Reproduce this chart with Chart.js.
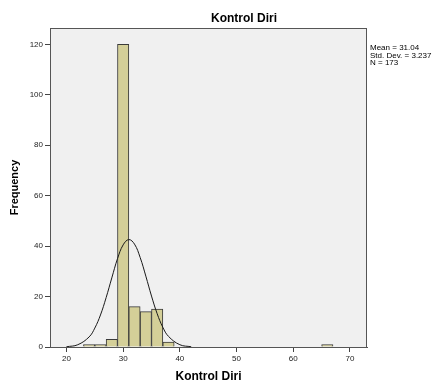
<!DOCTYPE html>
<html>
<head>
<meta charset="utf-8">
<script src="https://cdn.jsdelivr.net/npm/chart.js@4.4.1/dist/chart.umd.min.js"></script>
<style>
  html, body { margin: 0; padding: 0; background: #fff; }
  #wrap { width: 438px; height: 383px; position: relative; }
</style>
</head>
<body>
<div id="wrap"><canvas id="histo" width="438" height="383"></canvas></div>
<script>
// Datos del histograma (centro del intervalo y frecuencia)
var binCenters = [24, 26, 28, 30, 32, 34, 36, 38, 66];
var frequencies = [1, 1, 3, 120, 16, 14, 15, 2, 1];

// Curva normal
var curveX = [20, 22, 24, 25, 26, 27, 28, 29, 30, 31, 32, 33, 34, 35, 36, 37, 38, 40, 42];
var curveY = [0.1, 0.9, 4.0, 7.5, 12.7, 19.6, 27.4, 35.0, 40.5, 42.6, 40.8, 35.5, 28.1, 20.2, 13.2, 7.8, 4.2, 0.9, 0.1];

var xTicks = [20, 30, 40, 50, 60, 70];
var yTicks = [0, 20, 40, 60, 80, 100, 120];

var chartTitle = 'Kontrol Diri';
var xTitle = 'Kontrol Diri';
var yTitle = 'Frequency';
var statsLines = ['Mean = 31.04', 'Std. Dev. = 3.237', 'N = 173'];

var FONT = 'Arial, "Liberation Sans", sans-serif';

var fondoYTextos = {
    id: 'fondoYTextos',
    beforeDatasetsDraw: function(chart) {
        var a = chart.chartArea, ctx = chart.ctx;
        ctx.save();
        ctx.fillStyle = '#f0f0f0';
        ctx.fillRect(a.left, a.top, a.right - a.left, a.bottom - a.top);
        ctx.restore();
    },
    afterDraw: function(chart) {
        var a = chart.chartArea, ctx = chart.ctx;
        ctx.save();
        ctx.strokeStyle = '#555555';
        ctx.lineWidth = 1;
        ctx.strokeRect(a.left + 0.5, a.top + 0.5, a.right - a.left - 1, a.bottom - a.top);
        // titulo
        ctx.fillStyle = '#000';
        ctx.font = 'bold 12px ' + FONT;
        ctx.textAlign = 'center';
        ctx.textBaseline = 'middle';
        ctx.fillText(chartTitle, 244, 19);
        // estadisticos
        ctx.font = '8px ' + FONT;
        ctx.textAlign = 'left';
        for (var i = 0; i < statsLines.length; i++) {
            ctx.fillText(statsLines[i], 370, 48 + i * 7.5);
        }
        ctx.restore();
    }
};

var ctx = document.getElementById('histo').getContext('2d');
var myChart = new Chart(ctx, {
    type: 'bar',
    data: {
        datasets: [{
            type: 'line',
            data: curveX.map(function(x, i) { return {x: x, y: curveY[i]}; }),
            borderColor: '#1a1a1a',
            borderWidth: 1,
            pointRadius: 0,
            fill: false,
            tension: 0.4,
            order: 0
        }, {
            type: 'bar',
            data: binCenters.map(function(x, i) { return {x: x, y: frequencies[i]}; }),
            backgroundColor: '#d4cf98',
            borderColor: '#3a3a3a',
            borderWidth: 1,
            barPercentage: 1,
            categoryPercentage: 1,
            order: 1
        }]
    },
    options: {
        responsive: false,
        animation: false,
        devicePixelRatio: 1,
        layout: { padding: { top: 28, right: 71, left: 0, bottom: 0 } },
        plugins: { legend: { display: false }, tooltip: { enabled: false } },
        scales: {
            x: {
                type: 'linear',
                min: 17.1,
                max: 73.0,
                offset: false,
                afterFit: function(s) { s.height = 36; },
                afterBuildTicks: function(s) { s.ticks = xTicks.map(function(v) { return {value: v}; }); },
                grid: { drawOnChartArea: false, drawTicks: true, tickLength: 5, color: '#444', offset: false },
                border: { color: '#555', width: 1 },
                ticks: { color: '#222', font: { family: FONT, size: 8 }, padding: 2, maxRotation: 0 },
                title: { display: true, text: xTitle, color: '#000', font: { family: FONT, size: 12, weight: 'bold', lineHeight: 1 }, padding: { top: 0, bottom: 0 } }
            },
            y: {
                min: 0,
                max: 126.5,
                afterFit: function(s) { s.width = 50; },
                afterBuildTicks: function(s) { s.ticks = yTicks.map(function(v) { return {value: v}; }); },
                grid: { drawOnChartArea: false, drawTicks: true, tickLength: 5, color: '#444' },
                border: { color: '#555', width: 1 },
                ticks: { color: '#222', font: { family: FONT, size: 8 }, padding: 2 },
                title: { display: true, text: yTitle, color: '#000', font: { family: FONT, size: 11, weight: 'bold' }, padding: { top: 8, bottom: 0 } }
            }
        }
    },
    plugins: [fondoYTextos]
});
</script>
</body>
</html>
